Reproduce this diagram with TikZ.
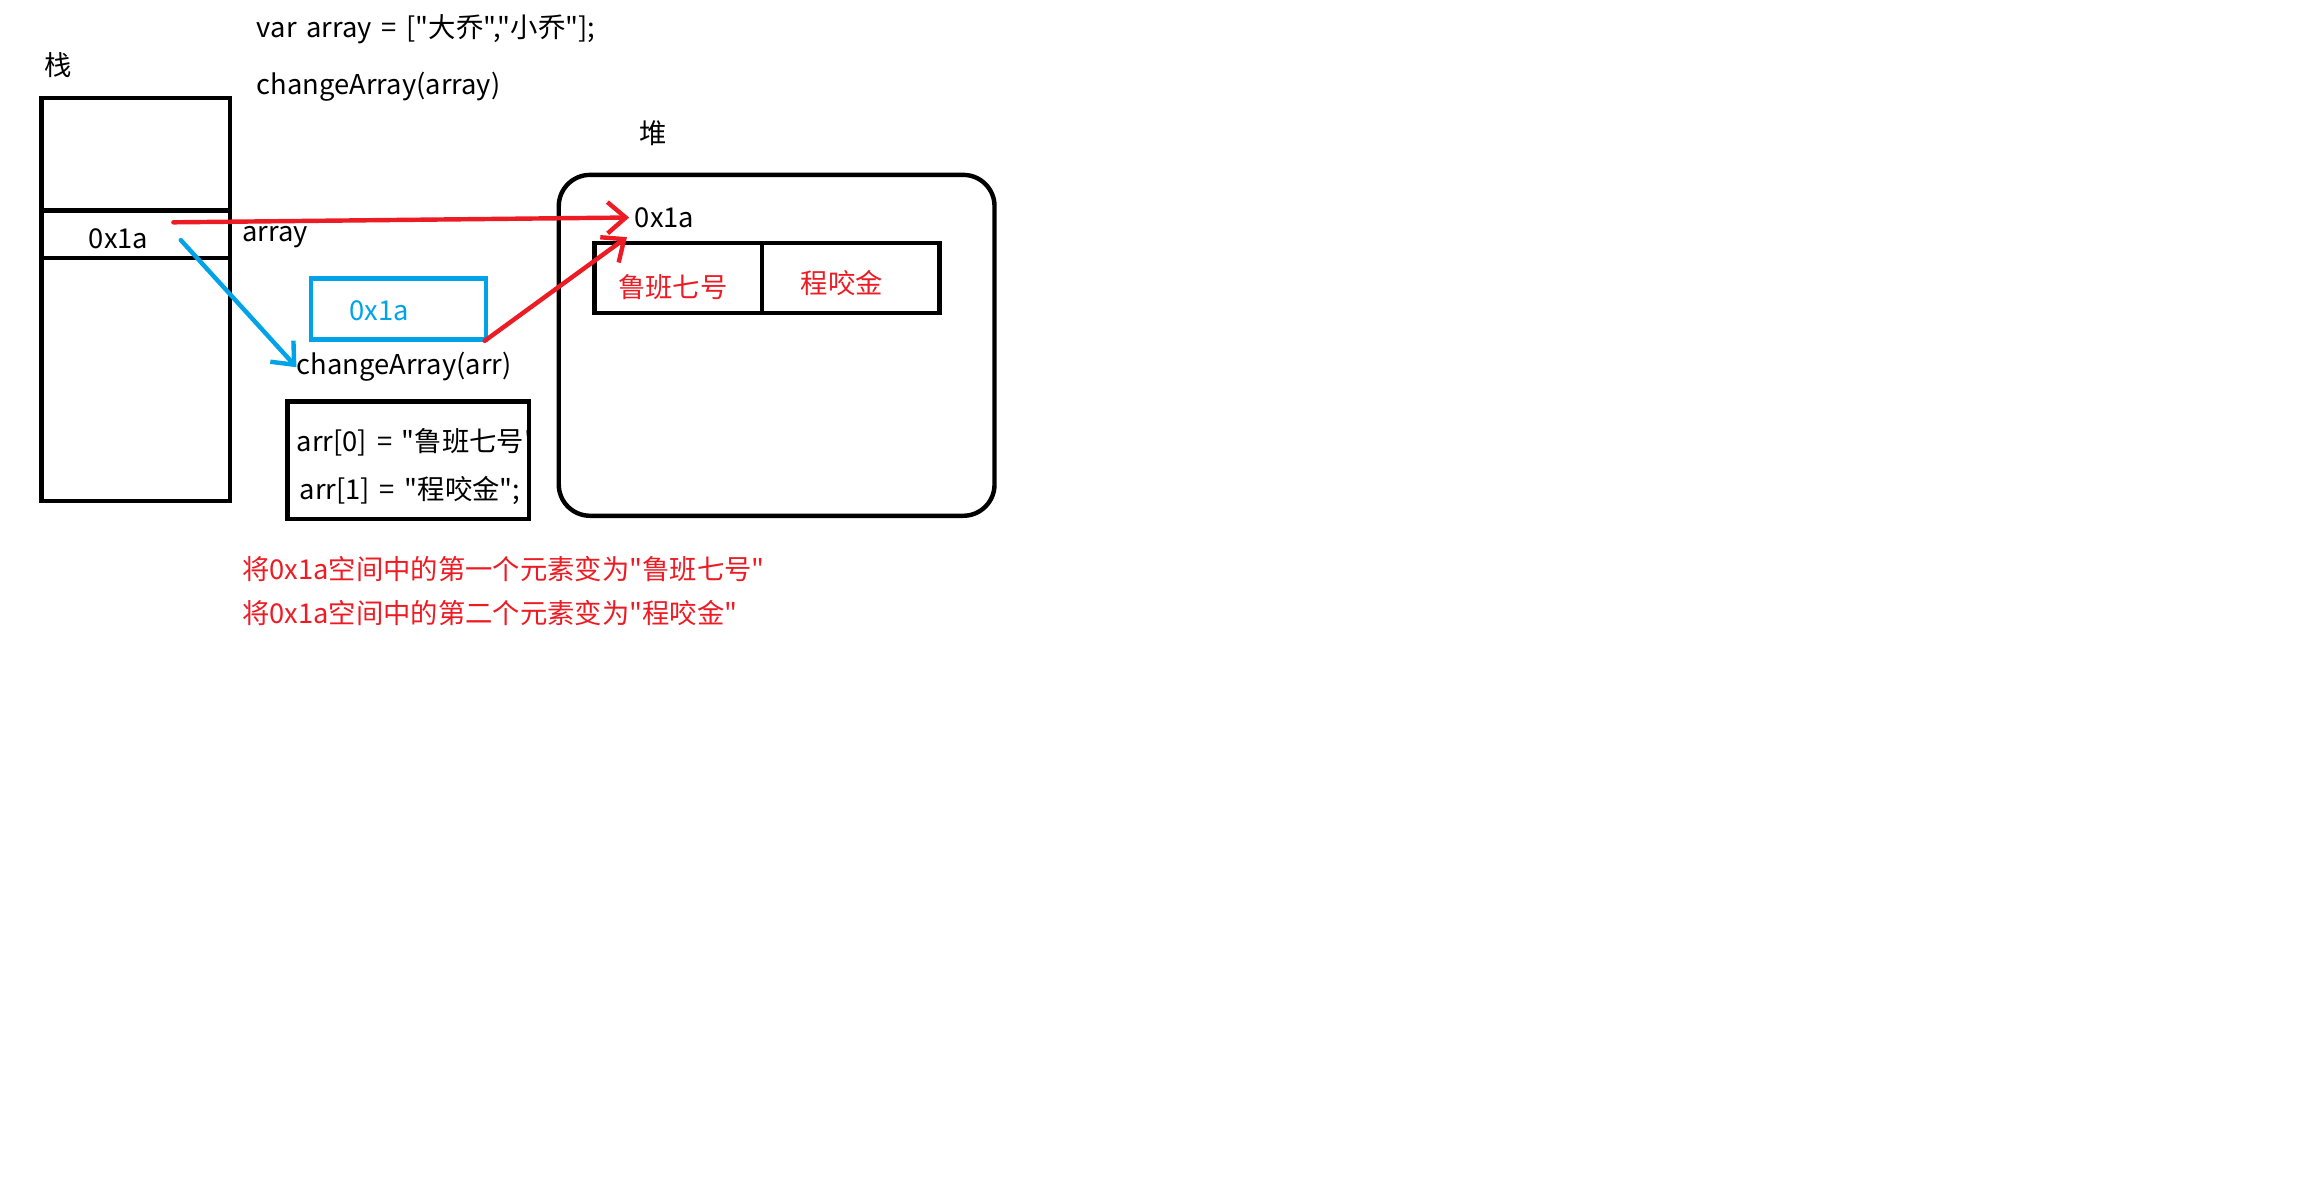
\documentclass[tikz,border=0pt]{standalone}
\usepackage{fontspec}
\setmainfont[Ligatures=TeXOff,WordSpace=1.6]{Noto Sans CJK SC}
\usetikzlibrary{arrows.meta}
\definecolor{pen}{RGB}{237,28,36}
\definecolor{sky}{RGB}{0,162,232}
\tikzset{
  cell/.style={draw,line width=1.7pt},
  lbl/.style={inner sep=0pt,anchor=west,yshift=-1pt,font=\fontsize{10.5}{12}\selectfont},
  ptr/.style={-{Straight Barb[length=7pt,width=12pt]},line width=1.7pt,line cap=round},
}
\begin{document}
\begin{tikzpicture}[x=0.02cm,y=-0.02cm]
  \useasboundingbox (0,0) rectangle (1568,804);
  % code
  \node[lbl] (decl) at (173,18) {var array = ["大乔","小乔"];};
  \node[lbl] (call) at (173,57) {changeArray(array)};
  % stack
  \node[lbl,anchor=center] (stacktitle) at (39,42) {栈};
  \draw[cell] (28,66) rectangle (155,338);
  \draw[cell] (28,142) -- (155,142);
  \draw[cell] (28,174) -- (155,174);
  \node[lbl,anchor=center] (stackval) at (80,159) {0x1a};
  \node[lbl] (varname) at (163,158) {array};
  % heap
  \node[lbl,anchor=center] (heaptitle) at (441,88) {堆};
  \draw[cell,rounded corners=12] (377,118) rectangle (671,348);
  \node[lbl] (heapaddr) at (428,145) {0x1a};
  \draw[cell] (401,164) rectangle (634,211);
  \draw[cell] (514,164) -- (514,211);
  \node[lbl,anchor=center,text=pen] (elem0) at (454,192) {鲁班七号};
  \node[lbl,anchor=center,text=pen] (elem1) at (568,189) {程咬金};
  % function
  \draw[cell,sky] (210,188) rectangle (328,229);
  \node[lbl,anchor=center,text=sky] (argval) at (256,208) {0x1a};
  \node[lbl] (func) at (200,246) {changeArray(arr)};
  \draw[cell] (194,271) rectangle (357,350);
  \begin{scope}
    \clip (194,271) rectangle (356,350);
    \node[lbl] (set0) at (200,297) {arr[0] = "鲁班七号";};
  \end{scope}
  \node[lbl] (set1) at (202,329) {arr[1] = "程咬金";};
  % notes
  \node[lbl,text=pen] (note0) at (163,382) {将0x1a空间中的第一个元素变为"鲁班七号"};
  \node[lbl,text=pen] (note1) at (163,412) {将0x1a空间中的第二个元素变为"程咬金"};
  % pointers
  \coordinate (srcred) at (117,150);
  \coordinate (srcblue) at (122,162);
  \coordinate (argout) at (327,230);
  \coordinate (heapin) at (423,160);
  \draw[ptr,pen] (srcred) -- ([xshift=-2pt]heapaddr.west);
  \draw[ptr,sky] (srcblue) -- (func.west);
  \draw[ptr,pen] (argout) -- (heapin);
\end{tikzpicture}
\end{document}
